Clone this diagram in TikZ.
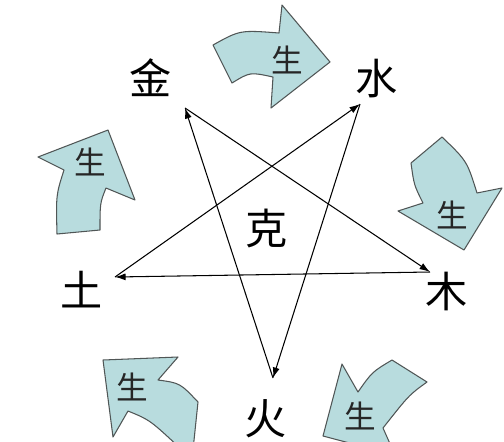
\documentclass[tikz,border=0pt]{standalone}
\usepackage{fontspec}
\newfontfamily\cjk{Noto Sans CJK SC}
\usetikzlibrary{arrows.meta}
\definecolor{shengfill}{RGB}{184,220,222}
\definecolor{shengline}{RGB}{80,86,86}

\begin{document}
\begin{tikzpicture}[x=0.02cm, y=-0.02cm,
		elem/.style={font=\cjk\fontsize{24}{24}\selectfont, inner sep=0pt},
		shengarrow/.style={fill=shengfill, draw=shengline, line width=.06em, line join=round},
		shenglabel/.style={font=\cjk\fontsize{18}{18}\selectfont, inner sep=0pt, text=black!85},
		ke/.style={-{Latex[length=.6em,width=.4em]}, line width=.06em}]
	\clip (0,0) rectangle (504,441);

	% the five curved arrows
	\draw[shengarrow] (213,45) .. controls (240,30) .. (279,33) -- (282,5) -- (330,62) -- (271,108) -- (273,77) .. controls (250,72) .. (232,83) -- cycle;
	\draw[shengarrow] (411,163) -- (442,137) .. controls (467,161) .. (477,193) -- (502,188) -- (464,250) -- (398,211) -- (423,203) .. controls (414,185) .. (411,163) -- cycle;
	\draw[shengarrow] (342,364) -- (358,392) .. controls (372,372) .. (392,360) -- (427,382) .. controls (409,395) .. (383,428) -- (395,455) -- (323,436) -- cycle;
	\draw[shengarrow] (103,360) -- (178,357) -- (158,380) .. controls (180,383) .. (198,402) -- (193,450) -- (182,450) .. controls (150,420) .. (128,411) -- (113,437) -- cycle;
	\draw[shengarrow] (57,234) -- (100,230) .. controls (100,203) .. (106,188) -- (135,200) -- (108,130) -- (38,157) -- (64,170) .. controls (56,195) .. (57,234) -- cycle;

	\node[shenglabel] (sheng1) at (287,60) {生};
	\node[shenglabel] (sheng2) at (452,215) {生};
	\node[shenglabel] (sheng3) at (360,416) {生};
	\node[shenglabel] (sheng4) at (132,387) {生};
	\node[shenglabel] (sheng5) at (90,162) {生};

	% star points
	\coordinate (vJin) at (185,108);
	\coordinate (vShui) at (360,104);
	\coordinate (vMu) at (430,272);
	\coordinate (vHuo) at (273,378);
	\coordinate (vTu) at (115,277);

	\node[elem] at ([xshift=-.68cm, yshift=.6cm]vJin) (jin) {金};
	\node[elem] at ([xshift=.34cm, yshift=.5cm]vShui) (shui) {水};
	\node[elem] at ([xshift=.34cm, yshift=-.38cm]vMu) (mu) {木};
	\node[elem] at ([xshift=-.14cm, yshift=-.82cm]vHuo) (huo) {火};
	\node[elem] at ([xshift=-.66cm, yshift=-.26cm]vTu) (tu) {土};
	\node[elem] at (267,228) (ke) {克};

	\foreach \a/\b in {Tu/Shui, Shui/Huo, Huo/Jin, Jin/Mu, Mu/Tu}
		{
			\draw[ke] (v\a) -- (v\b);
		}
\end{tikzpicture}
\end{document}
